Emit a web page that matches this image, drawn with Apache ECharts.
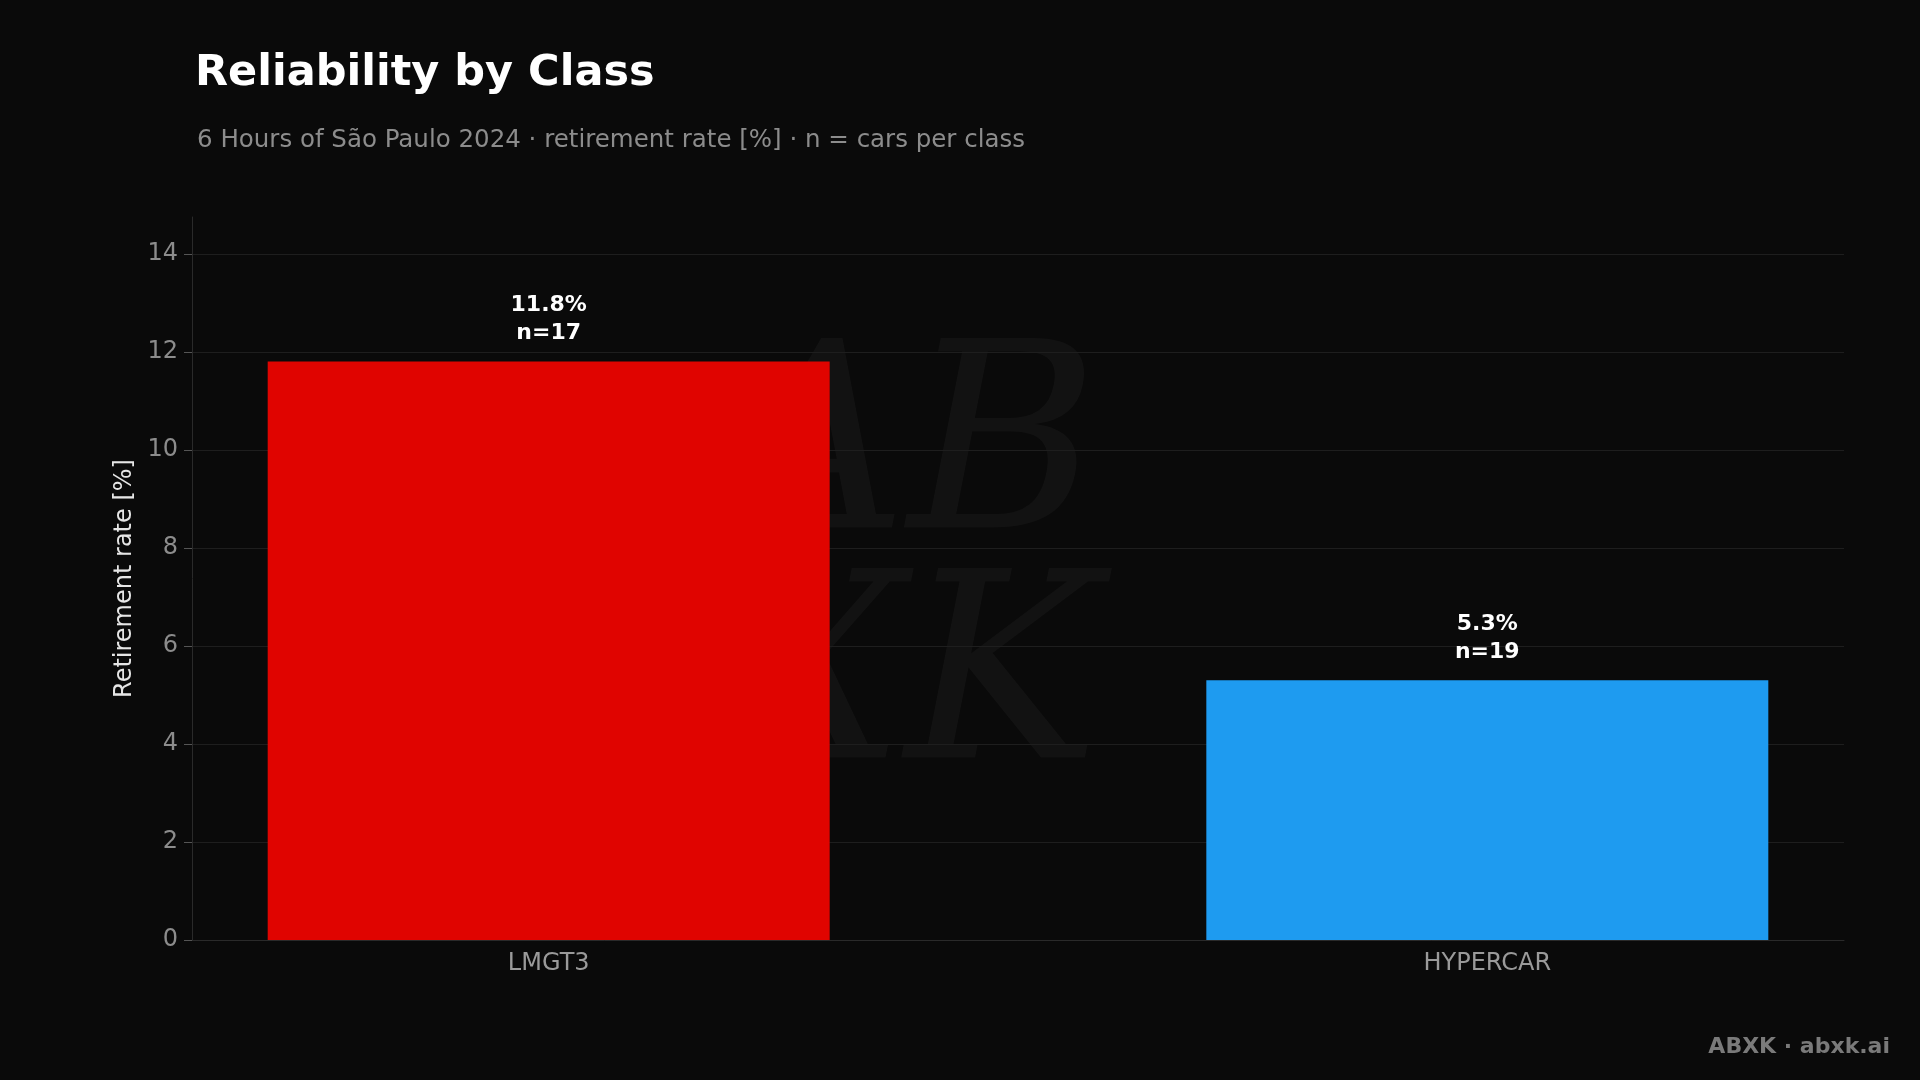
<!DOCTYPE html>
<html>
<head>
<meta charset="utf-8">
<script src="https://cdn.jsdelivr.net/npm/echarts@6/dist/echarts.min.js"></script>
<style>html,body{margin:0;padding:0;background:#0a0a0a;}#main{width:1920px;height:1080px;}</style>
</head>
<body>
<div id="main"></div>
<script>
// data
var classes = ['LMGT3', 'HYPERCAR'];
var retireRate = [11.8, 5.3];
var carCount = [17, 19];
var barColors = ['#e00400', '#1e9bf0'];

var myChart = echarts.init(document.getElementById('main'));
var font = 'DejaVu Sans';
var option = {
  backgroundColor: '#0a0a0a',
  textStyle: { fontFamily: font },
  title: [{
    text: 'Reliability by Class',
    left: 190, top: 47,
    textStyle: { color: '#ffffff', fontSize: 43, fontWeight: 'bold', fontFamily: font }
  }, {
    text: '6 Hours of São Paulo 2024 · retirement rate [%] · n = cars per class',
    left: 192, top: 123,
    textStyle: { color: '#8c8c8c', fontSize: 24.5, fontWeight: 'normal', fontFamily: font }
  }],
  grid: { left: 192, right: 76, top: 217, bottom: 140 },
  xAxis: {
    type: 'value',
    min: -0.38, max: 1.38,
    axisLine: { show: true, onZero: false, lineStyle: { color: '#2a2a2a' } },
    axisTick: { show: false },
    splitLine: { show: false },
    axisLabel: {
      color: '#9a9a9a', fontSize: 24, margin: 12,
      customValues: [0, 1],
      formatter: function (v) { return classes[Math.round(v)]; }
    }
  },
  yAxis: {
    type: 'value',
    min: 0, max: 14.75, interval: 2,
    name: 'Retirement rate [%]',
    nameLocation: 'middle',
    nameGap: 52,
    nameTextStyle: { color: '#e6e6e6', fontSize: 24 },
    axisLine: { show: true, onZero: false, lineStyle: { color: '#2a2a2a' } },
    axisTick: { show: true, length: 8, lineStyle: { color: '#555' } },
    axisLabel: { color: '#8c8c8c', fontSize: 24, margin: 14, showMaxLabel: false },
    splitLine: { showMaxLine: false, lineStyle: { color: '#1e1e1e' } }
  },
  series: [{
    type: 'bar',
    barWidth: 562,
    data: retireRate.map(function (v, i) {
      return { value: [i, v], itemStyle: { color: barColors[i] } };
    }),
    label: {
      show: true,
      position: 'top',
      distance: 14,
      color: '#ffffff',
      fontWeight: 'bold',
      fontSize: 22,
      lineHeight: 28,
      formatter: function (p) { return p.value[1].toFixed(1) + '%\nn=' + carCount[p.dataIndex]; }
    }
  }],
  graphic: [{
    type: 'text',
    right: 30, bottom: 22,
    style: { text: 'ABXK · abxk.ai', fill: '#7a7a7a', font: 'bold 22px "DejaVu Sans"' }
  }, {
    type: 'text',
    left: 720, top: 330,
    z: -1,
    style: { text: 'AB\nXK', fill: 'rgba(255,255,255,0.035)', font: 'italic 260px "DejaVu Serif"', lineHeight: 230 }
  }]
};
myChart.setOption(option);
</script>
</body>
</html>
